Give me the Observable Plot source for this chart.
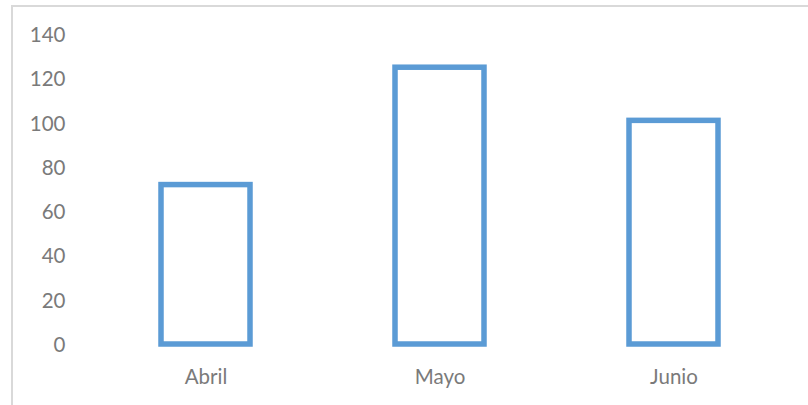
<!DOCTYPE html>
<html>
<head>
<meta charset="utf-8">
<script src="https://cdn.jsdelivr.net/npm/d3@7"></script>
<script src="https://cdn.jsdelivr.net/npm/@observablehq/plot@0.6"></script>
<style>
  html, body { margin: 0; padding: 0; background: #fff; }
  #wrap { position: relative; width: 808px; height: 405px; overflow: hidden; }
  #frame { position: absolute; left: 11px; top: 5px; width: 900px; height: 500px;
           border-left: 2px solid #d9d9d9; border-top: 2px solid #d9d9d9; box-sizing: border-box; }
  #chart { position: absolute; left: 0; top: 0; }
</style>
</head>
<body>
<div id="wrap"><div id="frame"></div><div id="chart"></div></div>
<script>
const months = ["Abril", "Mayo", "Junio"];
const values = [72, 125, 101];
const yTicks = [0, 20, 40, 60, 80, 100, 120, 140];

const data = months.map((m, i) => ({month: m, value: values[i]}));

const chart = Plot.plot({
  width: 808,
  height: 405,
  marginLeft: 88,
  marginRight: 18,
  marginTop: 34,
  marginBottom: 61,
  style: {fontFamily: "Lato, sans-serif", fontSize: "20.5px", color: "#7a7a7a", background: "transparent"},
  x: {domain: months, paddingInner: 0.62, paddingOuter: 0.31, label: null},
  y: {domain: [0, 140], ticks: yTicks, label: null},
  marks: [
    Plot.axisY({ticks: yTicks, tickSize: 0, tickPadding: 23, label: null, fill: "#7a7a7a", dy: 1}),
    Plot.axisX({tickSize: 0, tickPadding: 25, label: null, fill: "#7a7a7a"}),
    Plot.barY(data, {x: "month", y: "value", fill: "white", stroke: "#5B9BD5", strokeWidth: 5.5})
  ]
});
document.getElementById("chart").appendChild(chart);
</script>
</body>
</html>
